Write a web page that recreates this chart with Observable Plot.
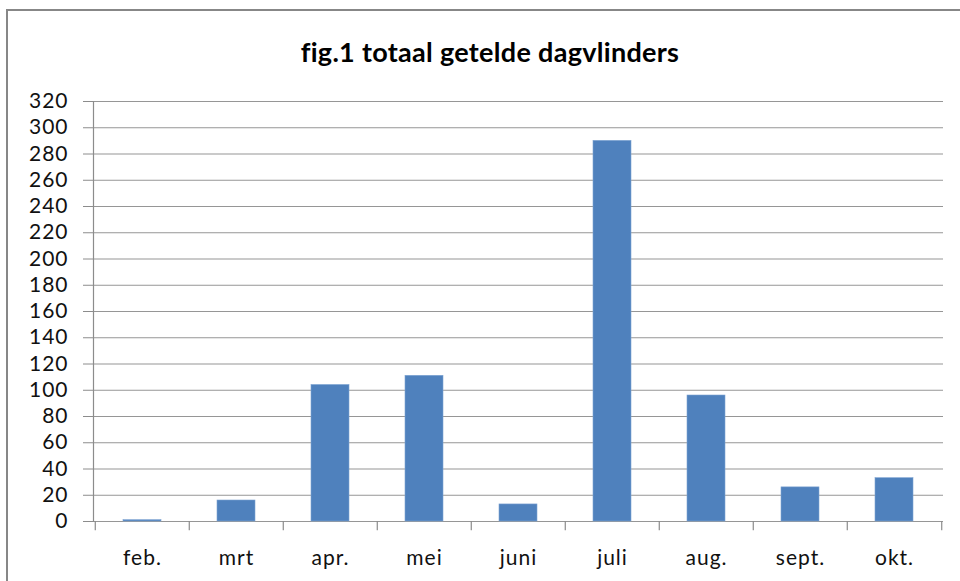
<!DOCTYPE html>
<html>
<head>
<meta charset="utf-8">
<script src="https://cdn.jsdelivr.net/npm/d3@7"></script>
<script src="https://cdn.jsdelivr.net/npm/@observablehq/plot@0.6"></script>
<style>
  html, body { margin: 0; padding: 0; background: #fff; }
  body { width: 960px; height: 581px; position: relative; overflow: hidden; font-family: Lato, "Open Sans", sans-serif; }
  #frame { position: absolute; left: 6px; top: 9px; width: 1000px; height: 620px; border: 2px solid #878787; box-sizing: border-box; }
  #title { position: absolute; left: 0; top: 0; width: 980px; height: 75px; text-align: center; font-weight: bold; font-size: 27px; line-height: 103px; color: #000; letter-spacing: 0.3px; }
  #chart { position: absolute; left: 0; top: 75px; }
  #chart text { letter-spacing: 1px; }
</style>
</head>
<body>
<div id="frame"></div>
<div id="title">fig.1 totaal getelde dagvlinders</div>
<div id="chart"></div>
<script>
const months = ["feb.", "mrt", "apr.", "mei", "juni", "juli", "aug.", "sept.", "okt."];
const counts = [1, 16, 104, 111, 13, 290, 96, 26, 33];
const yTicks = [0, 20, 40, 60, 80, 100, 120, 140, 160, 180, 200, 220, 240, 260, 280, 300, 320];

const data = months.map((m, i) => ({month: m, count: counts[i]}));

const W = 960, H = 506, mL = 93, mR = 17, mT = 26, mB = 60;
const step = (W - mL - mR) / months.length;
const gray = "#8c8c8c";

const chart = Plot.plot({
  width: W, height: H,
  marginLeft: mL, marginRight: mR, marginTop: mT, marginBottom: mB,
  style: {fontFamily: "Lato, 'Open Sans', sans-serif", fontSize: "21px", color: "#000", background: "transparent"},
  x: {domain: months, paddingInner: 0.6, paddingOuter: 0.3, label: null},
  y: {domain: [0, 320], label: null},
  marks: [
    Plot.ruleY(yTicks, {stroke: "#969696", strokeWidth: 1.2}),
    Plot.frame({anchor: "left", stroke: gray, strokeWidth: 1.2}),
    Plot.barY(data, {x: "month", y: "count", fill: "#4f81bd", stroke: "#7ea3d2", strokeWidth: 0.6}),
    Plot.ruleX(months, {x: d => d, dx: -step / 2, y1: 0, y2: -7, stroke: gray, strokeWidth: 1.2}),
    Plot.ruleX(months.slice(-1), {x: d => d, dx: step / 2, y1: 0, y2: -7, stroke: gray, strokeWidth: 1.2}),
    Plot.axisY({ticks: yTicks, tickSize: 10, tickPadding: 15, stroke: gray, fill: "#111", fontSize: 21, label: null}),
    Plot.axisX({tickSize: 0, tickPadding: 29, fill: "#111", fontSize: 21, label: null})
  ]
});
document.getElementById("chart").appendChild(chart);
</script>
</body>
</html>
